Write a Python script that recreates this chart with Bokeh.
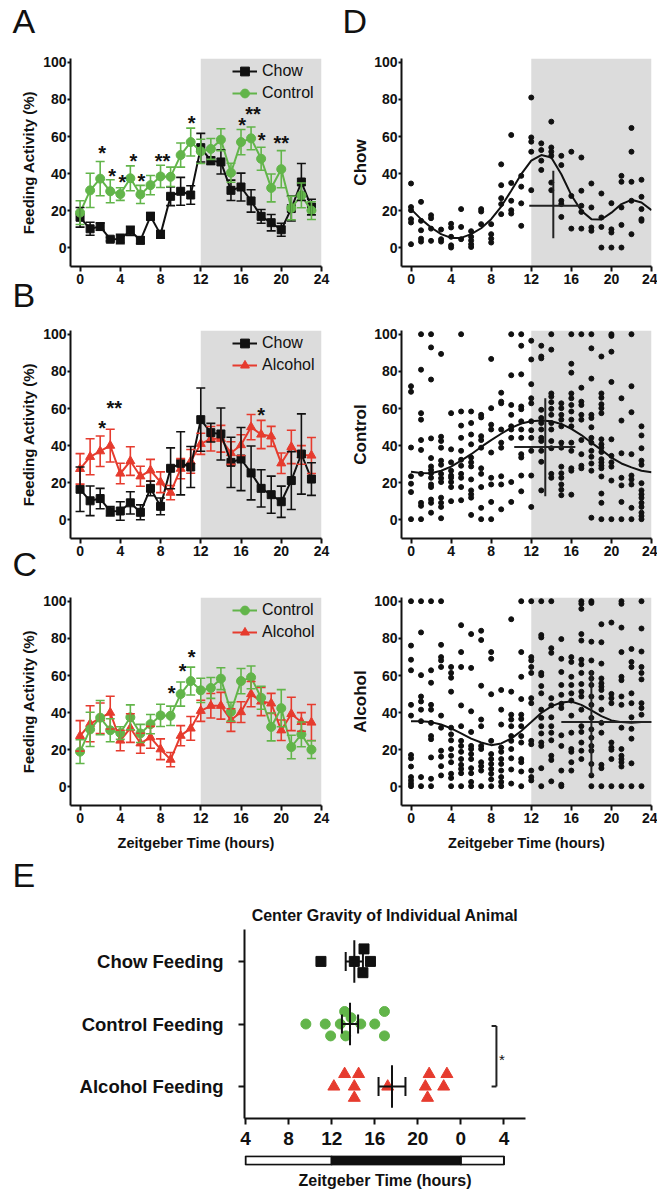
import math
from bokeh.plotting import figure
from bokeh.models import (Range1d, FixedTicker, BoxAnnotation, Whisker, TeeHead,
                          ColumnDataSource, Legend, LegendItem, Title)
from bokeh.layouts import column, row
from bokeh.embed import file_html
from bokeh.resources import INLINE
from bokeh.core.properties import value

# ---------------- data ----------------
hours = list(range(24))
curve_hours = list(range(25))
x_ticks = [0, 4, 8, 12, 16, 20, 24]
y_ticks = [0, 20, 40, 60, 80, 100]
DARK_START, DARK_END = 12, 24

chow_mean = [16.5, 10.3, 11.5, 4.7, 4.8, 9.2, 4.1, 17, 7.3, 27.8, 30.5, 28.5,
             54, 47, 46.3, 31, 32.8, 25.3, 17, 13.6, 9.8, 21.2, 35.5, 22]
chow_sem = [5.3, 3.5, 2, 1, 2.5, 2.5, 1.8, 2, 2, 5, 7.5, 5,
            7.7, 2, 6.5, 5.5, 7.5, 6, 3.7, 4.4, 3.5, 6.7, 10, 4.2]
chow_sd = [12, 8, 5.5, 2.5, 5, 6, 4, 4, 4.5, 11, 17, 11,
           17, 5, 14, 13.5, 17, 14.5, 10, 10, 8.4, 15.6, 21.6, 8.8]
control_mean = [19, 31, 37.3, 30.5, 29, 37.5, 28.8, 33.8, 38.5, 38.3, 50, 57,
                52, 53.3, 58.3, 40.5, 57, 59, 48, 32.3, 42.4, 21.5, 28.3, 20.1]
control_err = [6.4, 9.2, 9.2, 6.2, 3.4, 6.7, 4.9, 5.2, 6, 5.2, 6.5, 7.5,
               6.5, 5.6, 5.9, 5.1, 6.8, 6.1, 6.2, 7.5, 10, 6.3, 6.7, 4.8]
alcohol_mean = [27.5, 34, 37, 40, 25, 31.7, 23.5, 26.7, 20.3, 14.7, 27.6, 31.5,
                41, 43.7, 43.7, 36, 40.3, 50, 46, 45, 30.5, 39.3, 35, 34.7]
alcohol_err = [8.2, 9.7, 8.2, 8.8, 5.5, 7.7, 5.4, 5.9, 5.6, 3.8, 5.4, 6.4,
               5.7, 6.6, 7.2, 6.1, 5.6, 6.8, 7.6, 5.4, 5.5, 9, 5, 9.7]

starsA_x = [2.2, 3.2, 4.2, 5.3, 6.1, 8.2, 11.1, 16.1, 17.2, 18.05, 20.0]
starsA_y = [53.5, 40.7, 37.5, 49, 38.4, 49, 69.5, 68.6, 74.4, 60.2, 58.4]
starsA_t = ["*", "*", "*", "*", "*", "**", "*", "*", "**", "*", "**"]
starsB_x = [2.2, 3.4, 18.0]
starsB_y = [51.5, 62.6, 58.4]
starsB_t = ["*", "**", "*"]
starsC_x = [9.1, 10.2, 11.1]
starsC_y = [52.6, 64.7, 72.2]
starsC_t = ["*", "*", "*"]

# individual animals (one list per hour)
chow_ind = [
    [34.7, 22, 20.3, 15.5, 13.7, 2], [24.8, 14.6, 9.5, 5, 3.4], [17.6, 16, 10.4, 3.8],
    [9.9, 4.7, 3.4], [13, 11, 6, 1.4, 0.2], [20.9, 11.3, 4.7], [9, 6, 4, 2, 0.5],
    [20.9, 19.6, 12.8], [12.8, 7.4, 5, 2.9], [45, 33.8, 26.8, 23.6, 18.2],
    [60.8, 35, 25.4, 20.3, 18.5], [38.8, 33, 24, 11.9], [81, 59.5, 57.2, 51.8, 31.1],
    [56.3, 52.7, 47, 42], [68, 54.1, 51.8, 49.6, 35.2, 31.1], [49.6, 44.6, 25.4, 23.6, 16.7],
    [51.8, 28, 10.4], [48.7, 30.8, 22.7, 19.4, 10.4], [34.7, 21.8, 11, 9.2],
    [29.3, 16.4, 11.3, 0.2], [24.1, 10, 8.3, 0.2], [38.8, 35.6, 21.8, 12.4, 0.2],
    [64.6, 51.8, 35.6, 25.4, 7.4], [36.7, 27.5, 20.9, 15.5, 14.6]]
control_ind = [
    [72, 69, 39, 23.5, 19.5, 15, 0.4],
    [100, 80.9, 57.5, 54, 43, 37.7, 24.8, 9.2, 7.6, 0.4],
    [100, 92.9, 75.6, 43.9, 33.3, 28.8, 26.9, 25.1, 22.7, 19.1, 17.7, 11, 9.2, 3.9],
    [89.4, 44.8, 42.5, 38.9, 31.9, 29.7, 24.8, 22.5, 20.4, 12, 9.2, 7, 0.9],
    [57.5, 38, 31, 26.5, 23.9, 22.7, 20.4, 17.7, 10.1],
    [100, 58.4, 50.8, 44.2, 37.2, 32.4, 29.2, 24.8, 22.7, 17.7, 10.6],
    [58.4, 52.2, 46, 40.7, 33.6, 31, 28.8, 21.8, 15.9, 13.8, 12, 2.7],
    [56.6, 55.2, 45.1, 43, 38.9, 27.8, 24.8, 17.7, 6.5, 0.4],
    [86.7, 60.2, 51.3, 48.7, 36.3, 22.7, 19.1, 9.7, 0.4],
    [68.5, 63.7, 62.8, 48.7, 41.6, 38.9, 23.5, 19.1, 5.7],
    [100, 77.9, 61.9, 56.6, 50.4, 48.7, 44.2, 20.4, 9.7],
    [100, 93.8, 78.4, 61.1, 59.6, 53.1, 48.7, 44.2, 35.4, 33.6, 23.9, 15.4],
    [96.5, 86.4, 73.1, 65.5, 62.8, 53.1, 48.3, 44.2, 37.2, 23.9, 7],
    [93.8, 88, 87, 59.3, 54.9, 52.2, 48.7, 44.2, 42.5, 37.2, 31.3, 15.9],
    [100, 91.7, 68.1, 66.4, 63.4, 59.8, 56.6, 52.2, 48.7, 42.5, 38.6, 24.8, 22.7],
    [62.8, 60.2, 56.6, 54, 50.4, 41.6, 38.9, 28.7, 25.1, 22.7, 19.1, 16.3, 13.3],
    [100, 84.1, 79.3, 68.1, 65.5, 61.9, 58.4, 54, 50.4, 41.6, 37.2, 27.8, 26.5, 13.6],
    [100, 71.2, 63.7, 61.9, 56.6, 54, 43, 35.4, 29.2, 27.8],
    [100, 92.4, 76.1, 56.6, 54.9, 49.9, 44.2, 41.6, 37.2, 34, 30.4, 26.5, 1.2],
    [88, 68.1, 65.8, 62.3, 60.2, 57.5, 43.4, 40.7, 38.9, 36.6, 32.7, 31, 29.2, 27.8, 23.4, 14.2, 9.2, 0.4],
    [100, 99.1, 90.6, 74.3, 43.4, 34.5, 31, 28.7, 21.2, 0.4],
    [65.5, 53.5, 35.9, 22.7, 18.6, 9.7, 0.4],
    [100, 72, 58, 35.4, 23.9, 21.8, 19.1, 6.5, 0.4],
    [50.4, 45.5, 38.6, 31.9, 29.7, 19.8, 15.9, 13.8, 11.9, 9.2, 7, 3.9, 2.1, 0.4]]
alcohol_ind = [
    [100, 76.1, 68.5, 62.8, 44.2, 38.4, 17.2, 15.4, 11, 5.3, 3.5, 1.8, 0.4],
    [100, 83.2, 60.2, 48.7, 46, 41.6, 35.4, 5.3, 0.4],
    [100, 62.8, 56.1, 44.2, 41.6, 34.5, 27.4, 25.7, 15.9, 4.4, 0.4],
    [100, 76.5, 69.9, 68.1, 64.6, 38.4, 31.9, 19.5, 16.3, 11.2, 6.2],
    [64.6, 61.4, 58.8, 51.3, 31.9, 28.3, 25.1, 20.4, 16.8, 13.3, 7.1, 4.8, 0.4],
    [87.1, 72.6, 64.6, 43.9, 32.7, 24.8, 22.1, 18.9, 15, 11.9, 9.7, 7.4, 0.4],
    [82.3, 64.1, 40.7, 29.6, 22.1, 20.4, 17.7, 15, 10.1, 7.4, 2.7, 0.4],
    [84.1, 79.1, 54.5, 36.3, 32.7, 22.1, 20.4, 13.3, 11.2, 8.8, 0.4],
    [72.6, 69, 49.9, 24.8, 17.7, 15, 12.4, 9.7, 7.1, 4.1, 0.4],
    [52.2, 41.6, 33.6, 21.2, 18.9, 15, 12.4, 8.8, 5.3, 2.7, 0.4],
    [90.3, 51.3, 38.9, 36.3, 32.7, 27.4, 24.8, 20.4, 15.4, 9.4, 1.8],
    [100, 72.6, 59.3, 47.3, 38.9, 36.6, 32.7, 27.4, 23.9, 15, 13.3, 8.3, 0.4],
    [100, 69.9, 68.1, 64.6, 61.4, 47.8, 45.1, 24.8, 23, 8.8, 5.3, 3.5],
    [100, 81.8, 80.5, 61.4, 60.2, 54.3, 50.4, 41.6, 37.2, 32.7, 28.8, 23.9, 22.1, 10.1, 0.4],
    [100, 74.7, 72.2, 47.8, 43.9, 37.5, 32.7, 29.2, 25.1, 16.8, 14.5, 3],
    [79.6, 69, 61.9, 54.9, 49.6, 44.8, 42.5, 27.8, 22.1, 8.8, 1.2, 0.4],
    [69.9, 67.3, 59.3, 54.9, 50.4, 46.5, 38.4, 29.2, 20.4, 18.9, 13.3, 8.8],
    [100, 98.6, 95.9, 82.3, 78.8, 68.5, 66, 61.4, 55.4, 51.3, 48.7, 41.6, 32.7, 29.6, 23.9, 19.5, 15],
    [100, 99.1, 78.2, 68.1, 61.4, 58.4, 54.9, 48.7, 44.2, 37.2, 31, 26.5, 22.1, 19.5, 12.4, 6.2, 0.4],
    [87.6, 77.9, 66.4, 58.4, 55.8, 54, 52.2, 48.1, 41.6, 34.5, 29.2, 11.9, 10.1, 0.4],
    [88.5, 50.1, 47.8, 45.1, 23.9, 21.2, 20, 15, 0.4],
    [100, 98.6, 85.8, 72.6, 59.3, 57.5, 48.7, 44.2, 31.9, 20.4, 16.8, 15, 13.3, 11, 0.4],
    [74.3, 67.3, 64.6, 50.4, 45.1, 37.5, 31.3, 26, 12.7, 0.4],
    [100, 85.3, 72.9, 64.6, 61.4, 57.9, 45.1, 42.5, 38.9, 0.4]]

chow_curve = [20.9, 15.5, 11, 7.4, 5.4, 5.4, 7.4, 10.6, 15.5, 22.3, 30.8, 39.7, 47,
              50, 48.7, 39.7, 28.4, 20, 15.5, 15.3, 19, 23.6, 25.9, 24.5, 20.3]
control_curve = [26, 25.3, 25.1, 26.5, 28.7, 31.9, 35.4, 39.3, 43, 46.4, 49.6, 51.9, 53.1,
                 53.6, 53.1, 51.7, 49, 45.7, 41.6, 37.7, 33.6, 30.4, 28.3, 26.5, 25.7]
alcohol_curve = [35.4, 35.4, 34.9, 33.6, 31.5, 28.8, 26, 23.9, 22.5, 23.4, 26, 30.1, 34.9,
                 39.8, 43.4, 45.5, 46, 44.2, 41.2, 38.1, 35.8, 34.9, 34.5, 34.9, 35]

# centre of gravity crosses: (x, x_lo, x_hi, y, y_lo, y_hi)
chow_cog = (14.2, 11.8, 16.9, 22.7, 5.2, 41.5)
control_cog = (13.4, 10.3, 16.4, 39.3, 12.7, 65.5)
alcohol_cog = (18.0, 15.0, 24.0, 34.9, 6.2, 62.8)

# panel E
groups = ["Alcohol Feeding", "Control Feeding", "Chow Feeding"]
group_pos = [1, 2, 3]
e_ticks = [4, 8, 12, 16, 20, 24, 28]
e_tick_labels = ["4", "8", "12", "16", "20", "0", "4"]
chow_cg = [11.0, 15.0, 15.6, 14.1, 14.9]
chow_dy = [0, 0.2, 0, 0, -0.18]
control_cg = [9.6, 11.4, 12.8, 14.7, 16.0, 13.2, 13.8, 16.9, 11.9, 13.3, 16.9]
control_dy = [0, 0, 0, 0, 0, 0.2, 0.1, 0.2, -0.19, -0.19, -0.19]
alcohol_cg = [13.2, 14.5, 21.05, 22.7, 12.2, 14.1, 17.2, 20.7, 22.4, 14.1, 20.9]
alcohol_dy = [0.2, 0.2, 0.2, 0.2, 0, 0, 0, 0, 0, -0.18, -0.18]
cg_mean = [17.6, 13.7, 14.1]   # alcohol, control, chow
cg_sem = [1.25, 0.75, 0.8]
bracket_x = 27.3
bar_left = [4, 12, 24]
bar_right = [12, 24, 28]
bar_colors = ["white", "#111111", "white"]

# text in the side strips
left_letters = ["A", "B", "C", "E"]
right_letters = ["D"]
left_ylabels = ["Feeding Activity (%)"] * 3
right_ylabels = ["Chow", "Control", "Alcohol"]

# ---------------- style ----------------
FONT = "Liberation Sans"
GREEN = "#62b54a"
RED = "#e63b2e"
BLACK = "#111111"
GRAY = "#dcdcdc"
FRAME_H = 208


def style_axis(ax, size="14px"):
    ax.axis_line_width = 2
    ax.axis_line_color = BLACK
    ax.major_tick_line_width = 2
    ax.major_tick_line_color = BLACK
    ax.minor_tick_line_color = None
    ax.major_tick_in = 0
    ax.major_label_text_font = FONT
    ax.major_label_text_font_style = "bold"
    ax.major_label_text_font_size = size
    ax.major_label_text_color = BLACK


def small_fig(width, top, bottom, left, right, xlabel=None):
    p = figure(width=width, height=top + FRAME_H + bottom,
               x_range=Range1d(-0.95, 24), y_range=Range1d(-10, 102),
               output_backend="svg", toolbar_location=None,
               min_border_top=top, min_border_bottom=bottom,
               min_border_left=left, min_border_right=right)
    p.grid.visible = False
    p.outline_line_color = None
    p.background_fill_color = "white"
    p.add_layout(BoxAnnotation(left=DARK_START, right=DARK_END, fill_color=GRAY,
                               fill_alpha=1, line_alpha=0, level="underlay"))
    p.xaxis.ticker = FixedTicker(ticks=x_ticks)
    p.yaxis.ticker = FixedTicker(ticks=y_ticks)
    style_axis(p.xaxis[0])
    style_axis(p.yaxis[0])
    p.xaxis.major_tick_out = 5
    p.xaxis.major_label_standoff = 2
    p.yaxis.major_tick_out = 3
    p.yaxis.major_label_standoff = 1
    if xlabel:
        p.xaxis.axis_label = xlabel
        p.xaxis.axis_label_text_font = FONT
        p.xaxis.axis_label_text_font_style = "bold"
        p.xaxis.axis_label_text_font_size = "14.5px"
        p.xaxis.axis_label_standoff = 9
        p.xaxis.axis_label_text_color = BLACK
    return p


def series(p, mean, err, color, marker, size):
    src = ColumnDataSource(dict(x=hours, y=mean,
                                lo=[m - e for m, e in zip(mean, err)],
                                hi=[m + e for m, e in zip(mean, err)]))
    p.add_layout(Whisker(source=src, base="x", lower="lo", upper="hi",
                         line_color=color, line_width=1.6, level="glyph",
                         upper_head=TeeHead(size=9, line_color=color, line_width=1.6),
                         lower_head=TeeHead(size=9, line_color=color, line_width=1.6)))
    l = p.line("x", "y", source=src, line_color=color, line_width=2)
    s = p.scatter("x", "y", source=src, marker=marker, size=size,
                  fill_color=color, line_color=color)
    return [l, s]


def legend(p, items):
    lg = Legend(items=[LegendItem(label=t, renderers=r) for t, r in items],
                location=(162, FRAME_H - 46), padding=0, margin=0, spacing=0,
                label_height=22, glyph_height=22, glyph_width=25, label_standoff=5,
                background_fill_alpha=0, border_line_alpha=0,
                label_text_font=FONT, label_text_font_size="16px", label_text_color=BLACK)
    p.add_layout(lg)


def stars(p, xs, ys, ts):
    p.text(x=xs, y=ys, text=ts, text_font=value(FONT), text_font_style="bold",
           text_font_size="20px", text_align="center", text_baseline="middle",
           y_offset=4, text_color=BLACK)


def scatter_panel(p, ind, curve, cog):
    xs, ys = [], []
    for h, vals in zip(hours, ind):
        xs += [h] * len(vals)
        ys += vals
    p.scatter(xs, ys, size=5, color=BLACK, marker="circle")
    p.line(curve_hours, curve, line_color=BLACK, line_width=2)
    cx, cxl, cxh, cy, cyl, cyh = cog
    p.segment(x0=[cxl, cx], y0=[cy, cyl], x1=[cxh, cx], y1=[cy, cyh],
              line_color="#222222", line_width=2)


def strip(width, height, letters, lx, ly, labels, tx, ty, label_size):
    s = figure(width=width, height=height, x_range=Range1d(0, width),
               y_range=Range1d(height, 0), output_backend="svg", toolbar_location=None,
               min_border=0)
    s.axis.visible = False
    s.grid.visible = False
    s.outline_line_color = None
    s.text(x=lx, y=ly, text=letters, text_font=value(FONT), text_font_size="34px",
           text_align="left", text_baseline="middle", text_color=BLACK)
    s.text(x=tx, y=ty, text=labels, text_font=value(FONT), text_font_style="bold",
           text_font_size=label_size, text_align="center", text_baseline="middle",
           angle=math.pi / 2, text_color=BLACK)
    return s


# ---------------- geometry (page pixels) ----------------
SL_W, LW, LL, LR = 40, 298, 30, 17         # left strip 0-40, left panels 40-338
SR_W, RW, RL, RR = 33, 286, 29, 6          # right strip 338-371, right panels 371-657
T1, B1 = 58, 23      # row 1: 0 -> 289
T2, B2 = 41, 23      # row 2: 289 -> 561
T3, B3 = 36, 91      # row 3: 561 -> 896
TOP_H = T1 + B1 + T2 + B2 + T3 + B3 + 3 * FRAME_H
frame_mid = [T1 + FRAME_H / 2,
             T1 + FRAME_H + B1 + T2 + FRAME_H / 2,
             T1 + FRAME_H + B1 + T2 + FRAME_H + B2 + T3 + FRAME_H / 2]

pA = small_fig(LW, T1, B1, LL, LR)
rA1 = series(pA, chow_mean, chow_sem, BLACK, "square", 8)
rA2 = series(pA, control_mean, control_err, GREEN, "circle", 9)
legend(pA, [("Chow", rA1), ("Control", rA2)])
stars(pA, starsA_x, starsA_y, starsA_t)

pB = small_fig(LW, T2, B2, LL, LR)
rB2 = series(pB, alcohol_mean, alcohol_err, RED, "triangle", 9)
rB1 = series(pB, chow_mean, chow_sd, BLACK, "square", 8)
legend(pB, [("Chow", rB1), ("Alcohol", rB2)])
stars(pB, starsB_x, starsB_y, starsB_t)

pC = small_fig(LW, T3, B3, LL, LR, xlabel="Zeitgeber Time (hours)")
rC2 = series(pC, alcohol_mean, alcohol_err, RED, "triangle", 9)
rC1 = series(pC, control_mean, control_err, GREEN, "circle", 9)
legend(pC, [("Control", rC1), ("Alcohol", rC2)])
stars(pC, starsC_x, starsC_y, starsC_t)

pD1 = small_fig(RW, T1, B1, RL, RR)
scatter_panel(pD1, chow_ind, chow_curve, chow_cog)
pD2 = small_fig(RW, T2, B2, RL, RR)
scatter_panel(pD2, control_ind, control_curve, control_cog)
pD3 = small_fig(RW, T3, B3, RL, RR, xlabel="Zeitgeber Time (hours)")
scatter_panel(pD3, alcohol_ind, alcohol_curve, alcohol_cog)

stripL = strip(SL_W, TOP_H, left_letters, [12, 12, 12, 12], [20, 294, 563, 874],
               left_ylabels, [28] * 3, frame_mid, "15px")
stripR = strip(SR_W, TOP_H, right_letters, [4], [20],
               right_ylabels, [22] * 3, frame_mid, "17px")

# ---------------- panel E ----------------
E_W, E_L, E_R = 548, 244, 23
E_FRAME, E_TOP, E_BOT = 189, 33, 36
xrE = Range1d(3.9, 30)
pE = figure(width=E_W, height=E_TOP + E_FRAME + E_BOT, x_range=xrE, y_range=Range1d(0.49, 3.51),
            output_backend="svg", toolbar_location=None,
            min_border_top=E_TOP, min_border_bottom=E_BOT, min_border_left=E_L, min_border_right=E_R)
pE.title = Title(text="Center Gravity of Individual Animal", align="center", text_font=FONT,
                 text_font_size="16px", text_font_style="bold", text_color=BLACK, standoff=12)
pE.grid.visible = False
pE.outline_line_color = None
pE.xaxis.ticker = FixedTicker(ticks=e_ticks)
pE.xaxis.major_label_overrides = {t: s for t, s in zip(e_ticks, e_tick_labels)}
pE.yaxis.ticker = FixedTicker(ticks=group_pos)
pE.yaxis.major_label_overrides = {g: s for g, s in zip(group_pos, groups)}
style_axis(pE.xaxis[0], "19px")
style_axis(pE.yaxis[0], "18.5px")
pE.xaxis.major_tick_out = 6
pE.xaxis.major_label_standoff = 7
pE.yaxis.major_tick_out = 6
pE.yaxis.major_label_standoff = 15

pE.scatter(chow_cg, [3 + d for d in chow_dy], marker="square", size=10, color=BLACK)
pE.scatter(control_cg, [2 + d for d in control_dy], marker="circle", size=10, color=GREEN)
pE.scatter(alcohol_cg, [1 + d for d in alcohol_dy], marker="triangle", size=12, color=RED)
HALF = 0.34
pE.segment(x0=cg_mean, y0=[g - HALF for g in group_pos], x1=cg_mean,
           y1=[g + HALF for g in group_pos], line_color=BLACK, line_width=2)
srcE = ColumnDataSource(dict(y=group_pos, lo=[m - s for m, s in zip(cg_mean, cg_sem)],
                             hi=[m + s for m, s in zip(cg_mean, cg_sem)]))
pE.add_layout(Whisker(source=srcE, base="y", lower="lo", upper="hi", dimension="width",
                      line_color=BLACK, line_width=2, level="glyph",
                      upper_head=TeeHead(size=19, line_color=BLACK, line_width=2),
                      lower_head=TeeHead(size=19, line_color=BLACK, line_width=2)))
# significance bracket between alcohol (1) and control (2)
b_lo, b_hi = group_pos[0], group_pos[1] - 0.03
pE.segment(x0=[bracket_x, bracket_x - 0.45, bracket_x - 0.45],
           y0=[b_lo, b_lo, b_hi], x1=[bracket_x, bracket_x, bracket_x],
           y1=[b_hi, b_lo, b_hi], line_color="#222222", line_width=2)
pE.text(x=[bracket_x + 0.5], y=[(b_lo + b_hi) / 2], text=["*"], text_font=value(FONT),
        text_font_size="15px", text_align="center", text_baseline="middle", y_offset=3,
        text_color=BLACK)

# light / dark bar
pBar = figure(width=E_W, height=1 + 13 + 23, x_range=xrE, y_range=Range1d(-0.1, 1.1),
              output_backend="svg", toolbar_location=None,
              min_border_top=1, min_border_bottom=23, min_border_left=E_L, min_border_right=E_R)
pBar.grid.visible = False
pBar.outline_line_color = None
pBar.yaxis.visible = False
pBar.quad(left=bar_left, right=bar_right, bottom=0, top=1, fill_color=bar_colors,
          line_color=BLACK, line_width=2)
pBar.xaxis.ticker = FixedTicker(ticks=[])
pBar.xaxis.axis_line_color = None
pBar.xaxis.major_tick_out = 0
pBar.xaxis.minor_tick_line_color = None
pBar.xaxis.axis_label = "Zeitgeber Time (hours)"
pBar.xaxis.axis_label_text_font = FONT
pBar.xaxis.axis_label_text_font_style = "bold"
pBar.xaxis.axis_label_text_font_size = "16px"
pBar.xaxis.axis_label_standoff = 6
pBar.xaxis.axis_label_text_color = BLACK

top = row(stripL, column(pA, pB, pC), stripR, column(pD1, pD2, pD3))
layout = column(top, pE, pBar)
open("out.html", "w").write(file_html(layout, INLINE))
